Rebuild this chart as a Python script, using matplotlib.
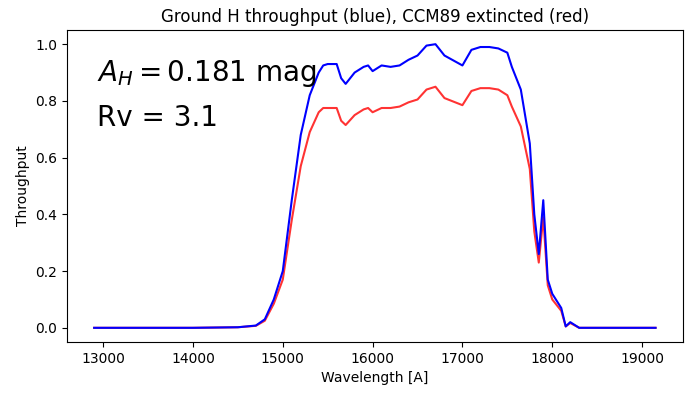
import matplotlib
matplotlib.use("Agg")
import matplotlib.pyplot as plt

# Wavelength grid [A] and throughputs
wave = [12900, 14000, 14500, 14700, 14800, 14900, 15000, 15100, 15200, 15300,
        15400, 15450, 15500, 15600, 15650, 15700, 15800, 15900, 15950, 16000,
        16100, 16200, 16300, 16400, 16500, 16600, 16700, 16800, 17000, 17100,
        17200, 17300, 17400, 17500, 17550, 17650, 17750, 17800, 17850, 17900,
        17950, 18000, 18100, 18150, 18200, 18300, 19150]
blue = [0.0, 0.0, 0.002, 0.008, 0.03, 0.10, 0.20, 0.45, 0.68, 0.82,
        0.90, 0.925, 0.93, 0.93, 0.88, 0.86, 0.90, 0.92, 0.925, 0.905,
        0.925, 0.92, 0.925, 0.945, 0.96, 0.995, 1.0, 0.96, 0.925, 0.98,
        0.99, 0.99, 0.985, 0.97, 0.92, 0.84, 0.65, 0.40, 0.26, 0.45,
        0.17, 0.12, 0.07, 0.005, 0.02, 0.0, 0.0]
red = [0.0, 0.0, 0.002, 0.007, 0.025, 0.085, 0.17, 0.38, 0.57, 0.69,
       0.76, 0.775, 0.775, 0.775, 0.73, 0.715, 0.75, 0.77, 0.775, 0.76,
       0.775, 0.775, 0.78, 0.795, 0.805, 0.84, 0.85, 0.81, 0.785, 0.835,
       0.845, 0.845, 0.84, 0.82, 0.78, 0.71, 0.56, 0.34, 0.23, 0.39,
       0.15, 0.10, 0.06, 0.005, 0.017, 0.0, 0.0]

fig, ax = plt.subplots(figsize=(7, 4), dpi=100)
ax.plot(wave, red, color='red', alpha=0.8, linewidth=1.5)
ax.plot(wave, blue, color='blue', linewidth=1.5)
ax.set_title('Ground H throughput (blue), CCM89 extincted (red)')
ax.set_xlabel('Wavelength [A]')
ax.set_ylabel('Throughput')
ax.set_xlim(12600, 19450)
ax.set_ylim(-0.05, 1.05)
ax.text(0.048, 0.862, r'$A_H = 0.181$ mag', transform=ax.transAxes, fontsize=20, va='center')
ax.text(0.048, 0.718, 'Rv = 3.1', transform=ax.transAxes, fontsize=20, va='center')
fig.subplots_adjust(left=0.096, right=0.975, top=0.925, bottom=0.145)
fig.savefig('out.png')
